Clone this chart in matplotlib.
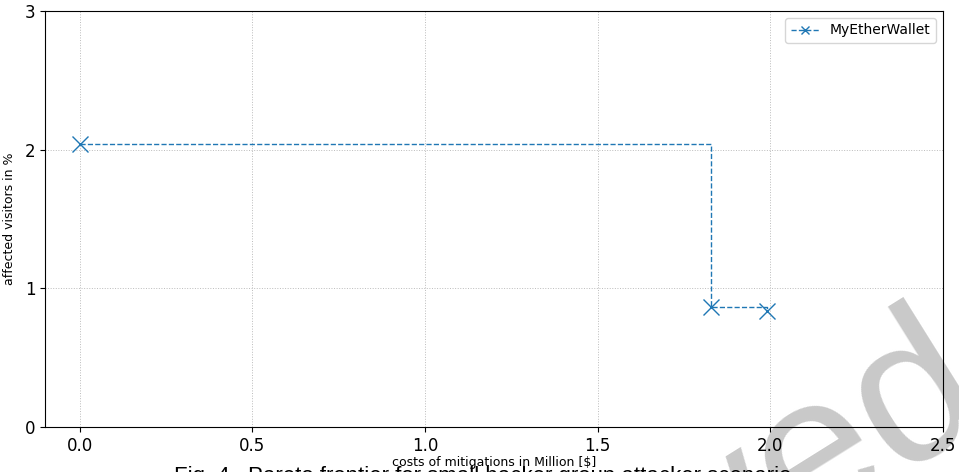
import matplotlib
matplotlib.use("Agg")
import matplotlib.pyplot as plt

# Pareto frontier: mitigation cost vs. share of affected visitors
costs = [0.0, 1.829, 1.991]          # Million $
affected = [2.04, 0.865, 0.836]      # percent
series_name = "MyEtherWallet"

xticks = [0.0, 0.5, 1.0, 1.5, 2.0, 2.5]
yticks = [0, 1, 2, 3]

fig = plt.figure(figsize=(9.59, 4.72), dpi=100)
ax = fig.add_axes([0.0469, 0.0953, 0.9364, 0.8814])
ax.set_facecolor("none")

ax.step(costs, affected, where="post", color="#1f77b4", linestyle="--",
        linewidth=1.0, marker="x", markersize=11, markeredgewidth=1.0,
        label=series_name)

ax.set_xlim(-0.1, 2.5)
ax.set_ylim(0, 3)
ax.set_xticks(xticks)
ax.set_yticks(yticks)
ax.tick_params(labelsize=12)
ax.grid(True, linestyle=":", color="#bbbbbb", linewidth=0.7)

ax.set_xlabel("costs of mitigations in Million [$]", fontsize=9, labelpad=1)
ax.set_ylabel("affected visitors in %", fontsize=9, labelpad=6)
ax.legend(loc="upper right", fontsize=10, markerscale=0.55)

# figure caption
fig.text(0.503, 0.012, "Fig. 4.  Pareto frontier for small hacker group attacker scenario",
         ha="center", va="top", fontsize=16,
         family=["Liberation Sans", "DejaVu Sans"])

# diagonal watermark behind the plot
fig.text(1.038, 0.115, "Preprint not peer reviewed", ha="right", va="baseline",
         rotation=32, rotation_mode="anchor", fontsize=150, color="#c9c9c9",
         family=["Liberation Sans", "DejaVu Sans"], zorder=-1)

fig.savefig("out.png", dpi=100)
